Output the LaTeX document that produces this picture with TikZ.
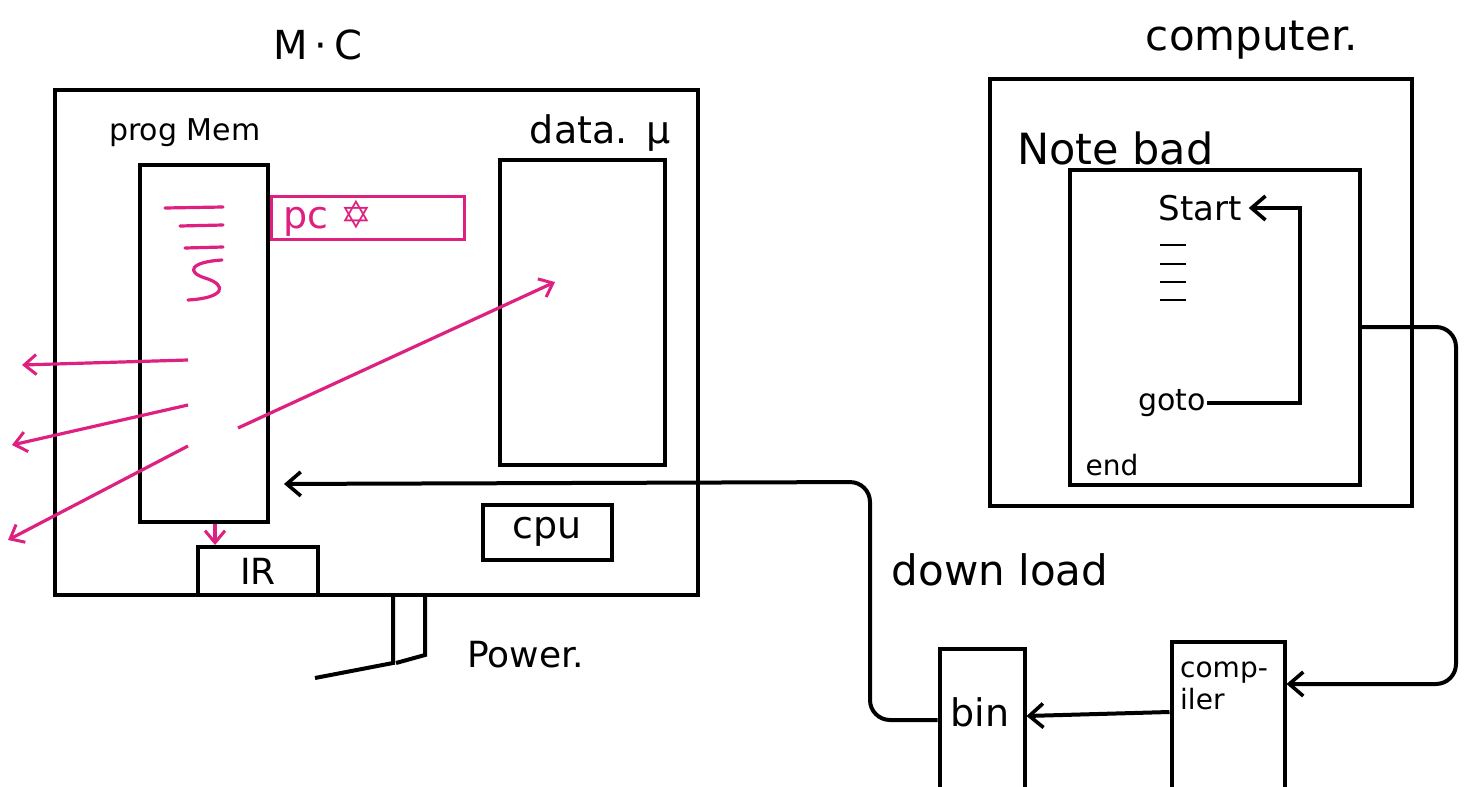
\documentclass[tikz,border=0pt]{standalone}
\usepackage{fontspec}
\setmainfont{DejaVu Sans}
\usetikzlibrary{arrows.meta}
\definecolor{pinkink}{RGB}{222,32,128}
\newcommand\myfs[1]{\fontsize{#1}{#1}\selectfont}
\tikzset{
  box/.style={draw, line width=4pt, rectangle, inner sep=0pt},
  pbox/.style={draw=pinkink, line width=3.2pt, rectangle, inner sep=0pt},
  lbl/.style={inner sep=1pt},
  wire/.style={line width=4pt},
  arr/.style={line width=4pt, -{Straight Barb[length=14pt,width=24pt,line width=3.6pt]}},
  parr/.style={draw=pinkink, line width=3.2pt, -{Straight Barb[length=12pt,width=20pt,line width=3pt]}},
  pline/.style={draw=pinkink, line width=3.2pt, line cap=round}
}
\begin{document}
\begin{tikzpicture}[x=1pt,y=-1pt]
\clip (0,0) rectangle (1473,787);
\fill[white] (0,0) rectangle (1473,787);
% micro-controller
\node[box, minimum width=643pt, minimum height=505pt] (mc) at (376,342) {};
\node[lbl, font=\myfs{40}] (mclabel) at (318,45) {M\,·\,C};
\node[box, minimum width=128pt, minimum height=357pt] (progmem) at (204,343) {};
\node[lbl, anchor=west, font=\myfs{30}] (pmlabel) at (108,133) {prog Mem};
\node[box, minimum width=165pt, minimum height=305pt] (datamem) at (582,312) {};
\node[lbl, anchor=east, font=\myfs{38}] (dmlabel) at (672,133) {data.\,\,\,μ};
\node[pbox, minimum width=193pt, minimum height=43pt] (pc) at (368,218) {};
\node[lbl, text=pinkink, anchor=west, font=\myfs{38}] (pctext) at ([xshift=12pt]pc.west) {pc\,\,✡};
\node[box, minimum width=120pt, minimum height=48pt, font=\myfs{36}] (ir) at (258,571) {IR};
\node[box, minimum width=129pt, minimum height=55pt, font=\myfs{38}] (cpu) at (547,532) {cpu};
% pink scribbles in program memory
\draw[pline] (165,208) -- (223,207);
\draw[pline] (180,226) -- (223,225);
\draw[pline] (185,248) -- (223,247);
\draw[pline] (222,260) .. controls (190,262) and (186,272) .. (205,278) .. controls (228,285) and (225,298) .. (188,300);
% pink arrows
\coordinate (o1) at (22,365);
\coordinate (o2) at (12,445);
\coordinate (o3) at (8,540);
\coordinate (d1) at (555,282);
\coordinate (s1) at (188,360);
\coordinate (s2) at (188,405);
\coordinate (s3) at (188,446);
\coordinate (s4) at (238,428);
\draw[parr] (s1) -- (o1);
\draw[parr] (s2) -- (o2);
\draw[parr] (s3) -- (o3);
\draw[parr] (s4) -- (d1);
\draw[parr] (progmem.south -| 215,0) -- (ir.north -| 215,0);
% power
\node[lbl, anchor=west, font=\myfs{36}] (power) at (466,655) {Power.};
\coordinate (pw1) at (315,678);
\draw[wire] (mc.south -| 393,0) -- (393,663) -- (pw1);
\draw[wire] (mc.south -| 425,0) -- (425,655) -- (396,663);
% computer
\node[lbl, font=\myfs{42}] (complabel) at (1252,40) {computer.};
\node[box, minimum width=422pt, minimum height=427pt] (computer) at (1201,292) {};
\node[lbl, anchor=west, font=\myfs{43}] (notebad) at (1016,148) {Note bad};
\node[box, minimum width=290pt, minimum height=315pt] (doc) at (1215,327) {};
\node[lbl, font=\myfs{34}] (start) at (1200,208) {Start};
\node[lbl, font=\myfs{30}] (goto) at (1172,403) {goto};
\node[lbl, font=\myfs{28}] (endt) at (1112,465) {end};
\draw[line width=2.6pt] (1160,245) -- (1186,245);
\draw[line width=2.6pt] (1160,264) -- (1186,264);
\draw[line width=2.6pt] (1160,282) -- (1186,282);
\draw[line width=2.6pt] (1160,300) -- (1186,300);
\coordinate (loopx) at (1300,0);
\draw[arr, line width=3.2pt] (goto.east) -| (start.east -| loopx) -- ([xshift=6pt]start.east);
% build chain
\node[box, minimum width=113pt, minimum height=160pt] (compiler) at (1228,722) {};
\node[font=\myfs{28}, align=left, anchor=north west, inner sep=0pt] (comptext) at (1180,662) {comp-\\[4pt]iler};
\node[box, minimum width=85pt, minimum height=155pt] (bin) at (982,726) {};
\node[lbl, font=\myfs{38}] (bintext) at (980,712) {bin};
\node[lbl, font=\myfs{42}] (download) at (1000,570) {down load};
\draw[arr, rounded corners=20pt] (doc.east) -| (1456,684) -- ([yshift=38pt]compiler.east);
\draw[arr] ([yshift=10pt]compiler.west) -- ([yshift=10pt]bin.east);
\draw[arr, rounded corners=20pt, shorten >=14pt] ([yshift=6pt]bin.west) -| (870,482) -- (progmem.east |- 0,484);
\end{tikzpicture}
\end{document}
